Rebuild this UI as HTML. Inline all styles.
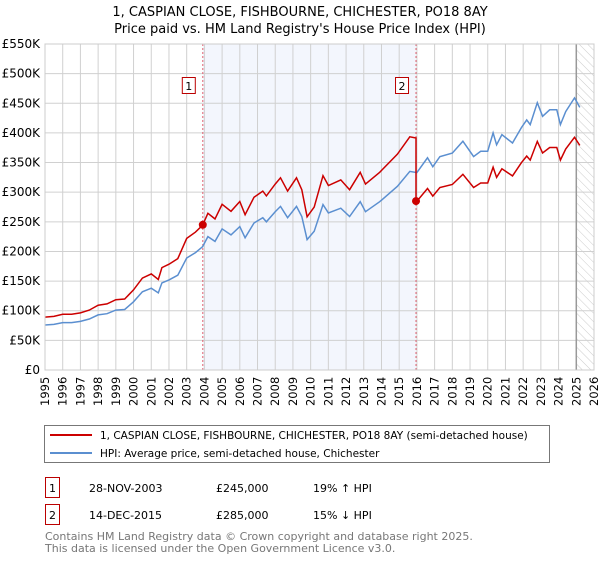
<!DOCTYPE html>
<html><head><meta charset="utf-8"><style>
body{margin:0;background:#fff;font-family:"Liberation Sans","DejaVu Sans",sans-serif;}
svg text{font-family:"DejaVu Sans","Liberation Sans",sans-serif;}
</style></head><body>
<svg id="chart" width="600" height="560" viewBox="0 0 600 560" xmlns="http://www.w3.org/2000/svg">
<defs><pattern id="hatch" width="6" height="6" patternUnits="userSpaceOnUse" patternTransform="rotate(-45)"><line x1="0" y1="0" x2="0" y2="6" stroke="#ccc" stroke-width="1"/></pattern></defs>
<text x="300" y="16" text-anchor="middle" font-size="13" fill="#000">1, CASPIAN CLOSE, FISHBOURNE, CHICHESTER, PO18 8AY</text>
<text x="300" y="33" text-anchor="middle" font-size="13" fill="#000">Price paid vs. HM Land Registry's House Price Index (HPI)</text>
<g id="plot"></g>
<g>
<rect x="44.5" y="425.5" width="505" height="37" fill="#fff" stroke="#777"/>
<line x1="50" y1="435" x2="92" y2="435" stroke="#cc0000" stroke-width="2"/>
<text x="100" y="439" font-size="10.5">1, CASPIAN CLOSE, FISHBOURNE, CHICHESTER, PO18 8AY (semi-detached house)</text>
<line x1="50" y1="453" x2="92" y2="453" stroke="#5b8fd0" stroke-width="2"/>
<text x="100" y="457" font-size="10.5">HPI: Average price, semi-detached house, Chichester</text>
</g>
<g font-size="11">
<rect x="45.5" y="477.5" width="14" height="20" fill="#fff" stroke="#b00"/>
<text x="52.5" y="492" text-anchor="middle">1</text>
<text x="89" y="492">28-NOV-2003</text><text x="216" y="492">£245,000</text><text x="313" y="492">19% ↑ HPI</text>
<rect x="45.5" y="504.5" width="14" height="20" fill="#fff" stroke="#b00"/>
<text x="52.5" y="519" text-anchor="middle">2</text>
<text x="89" y="519">14-DEC-2015</text><text x="216" y="519">£285,000</text><text x="313" y="519">15% ↓ HPI</text>
</g>
<text x="45" y="540" font-size="11" fill="#777">Contains HM Land Registry data © Crown copyright and database right 2025.</text>
<text x="45" y="552" font-size="11" fill="#777">This data is licensed under the Open Government Licence v3.0.</text>
</svg>
<script>
const hpiYears=[1995,1995.5,1996,1996.5,1997,1997.5,1998,1998.5,1999,1999.5,2000,2000.5,2001,2001.4,2001.6,2002,2002.5,2003,2003.5,2003.9,2004.2,2004.6,2005,2005.5,2006,2006.3,2006.8,2007.3,2007.5,2008,2008.3,2008.7,2009.2,2009.5,2009.8,2010.2,2010.7,2011,2011.7,2012.2,2012.8,2013.1,2013.9,2014.9,2015.6,2016,2016.6,2016.9,2017.3,2018,2018.6,2019.2,2019.6,2020,2020.3,2020.5,2020.8,2021.4,2021.9,2022.2,2022.4,2022.8,2023.1,2023.5,2023.9,2024.1,2024.4,2024.9,2025.2];
const hpiValues=[76,77,80,80,82,86,93,95,101,102,115,132,138,130,147,152,160,189,198,208,225,217,238,228,242,223,248,257,250,267,276,257,276,259,220,234,279,265,273,259,284,267,284,310,335,333,358,343,360,366,386,360,369,369,400,380,397,383,409,422,414,451,428,439,439,414,436,459,443];
const saleYears=[2003.91,2015.95];
const salePrices=[245,285];
const saleLabels=["1","2"];
const yTicks=[0,50,100,150,200,250,300,350,400,450,500,550];
const yTickLabels=["£0","£50K","£100K","£150K","£200K","£250K","£300K","£350K","£400K","£450K","£500K","£550K"];
const xTicks=[1995,1996,1997,1998,1999,2000,2001,2002,2003,2004,2005,2006,2007,2008,2009,2010,2011,2012,2013,2014,2015,2016,2017,2018,2019,2020,2021,2022,2023,2024,2025,2026];
const X0=45,X1=594,Y0=370,Y1=44;
const xs=y=>X0+(y-1995)/(2026-1995)*(X1-X0);
const ys=v=>Y0-v/550*(Y0-Y1);
const NS="http://www.w3.org/2000/svg";
const g=document.getElementById('plot');
function mk(t,a){const e=document.createElementNS(NS,t);for(const k in a)e.setAttribute(k,a[k]);g.appendChild(e);return e;}
function hpiAt(y){for(let i=1;i<hpiYears.length;i++){if(y<=hpiYears[i]){const t=(y-hpiYears[i-1])/(hpiYears[i]-hpiYears[i-1]);return hpiValues[i-1]+t*(hpiValues[i]-hpiValues[i-1]);}}return hpiValues[hpiValues.length-1];}
let e=mk('rect',{x:xs(saleYears[0]),y:Y1,width:xs(saleYears[1])-xs(saleYears[0]),height:Y0-Y1,fill:'#f3f6fd'});


e=mk('rect',{x:xs(2025),y:Y1,width:X1-xs(2025),height:Y0-Y1,fill:'url(#hatch)'});


xTicks.forEach(t=>{const l=mk('line',{x1:xs(t),x2:xs(t),y1:Y1,y2:Y0,stroke:'#d0d0d0'});


const tx=xs(t)+4, ty=406;
const te=mk('text',{x:tx,y:ty,transform:'rotate(-90 '+tx+' '+ty+')','font-size':'11.5',fill:'#000'});
te.style.transform='rotate(-90deg)';te.style.transformOrigin=tx+'px '+ty+'px';te.style.transformBox='view-box';
te.removeAttribute('transform');
te.textContent=t;

});
yTicks.forEach((t,i)=>{const l=mk('line',{x1:X0,x2:X1,y1:ys(t),y2:ys(t),stroke:'#d0d0d0'});


const tx=mk('text',{x:40,y:ys(t)+4,'text-anchor':'end','font-size':'12',fill:'#000'});tx.textContent=yTickLabels[i];

});
e=mk('line',{x1:xs(2025),x2:xs(2025),y1:Y1,y2:Y0,stroke:'#999','stroke-width':1.5});


saleYears.forEach(y=>{const l=mk('line',{x1:xs(y),x2:xs(y),y1:Y1,y2:Y0,stroke:'#e06070','stroke-dasharray':'2,2'});

});
let hp=hpiYears.map((y,i)=>xs(y).toFixed(1)+','+ys(hpiValues[i]).toFixed(1)).join(' ');
e=mk('polyline',{points:hp,fill:'none',stroke:'#5b8fd0','stroke-width':1.5});


const rp=[];
const h0=hpiAt(saleYears[0]),h1=hpiAt(saleYears[1]);
hpiYears.forEach((y,i)=>{if(y<saleYears[1])rp.push([y,salePrices[0]*hpiValues[i]/h0]);});
rp.push([saleYears[1],salePrices[0]*h1/h0]);rp.push([saleYears[1],salePrices[1]]);
hpiYears.forEach((y,i)=>{if(y>saleYears[1])rp.push([y,salePrices[1]*hpiValues[i]/h1]);});
e=mk('polyline',{points:rp.map(p=>xs(p[0]).toFixed(1)+','+ys(p[1]).toFixed(1)).join(' '),fill:'none',stroke:'#cc0000','stroke-width':1.5});


saleYears.forEach((y,i)=>{const c=mk('circle',{cx:xs(y),cy:ys(salePrices[i]),r:4,fill:'#cc0000'});


const bx=xs(y)-14;const r=mk('rect',{x:bx-6.5,y:77.5,width:13,height:16,fill:'#fff',stroke:'#b00'});


const t=mk('text',{x:bx,y:90,'text-anchor':'middle','font-size':'11'});t.textContent=saleLabels[i];

});
e=mk('rect',{x:X0,y:Y1,width:X1-X0,height:Y0-Y1,fill:'none',stroke:'#ccc'});


</script>
</body></html>
